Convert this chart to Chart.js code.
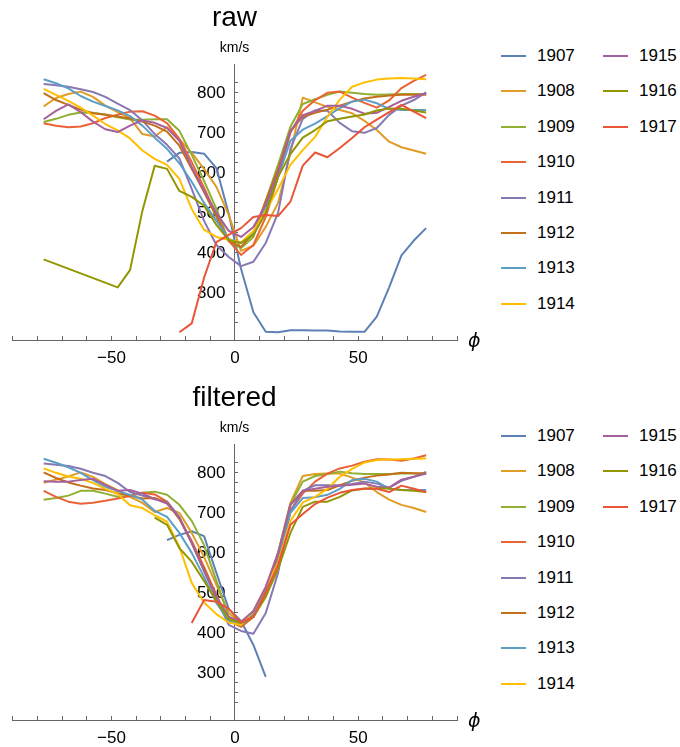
<!DOCTYPE html>
<html>
<head>
<meta charset="utf-8">
<script src="https://cdn.jsdelivr.net/npm/chart.js@4.4.1/dist/chart.umd.min.js"></script>
<style>
  html, body { margin: 0; padding: 0; background: #fff; }
  body { width: 680px; height: 747px; position: relative; overflow: hidden;
         font-family: "Liberation Sans", Arial, sans-serif; }
  .panel { position: absolute; left: 0; width: 470px; height: 375px; }
  .phi { position: absolute; font-family: "DejaVu Sans", "Liberation Sans", sans-serif;
         font-style: italic; font-size: 19px; line-height: 22px; color: #000; }
  .lg { position: absolute; height: 20px; display: flex; align-items: center;
        font-size: 17px; color: #000; white-space: nowrap; }
  .lg span.sw { display: inline-block; width: 25px; height: 2px; margin-right: 11px; }
</style>
</head>
<body>
<div class="panel" style="top:0px"><canvas id="rawChart" width="470" height="375"></canvas></div>
<div class="panel" style="top:380px"><canvas id="filtChart" width="470" height="375"></canvas></div>
<div class="phi" style="left:468px; top:329px">ϕ</div>
<div class="phi" style="left:468px; top:709px">ϕ</div>
<div id="legendRaw"></div>
<div id="legendFilt"></div>

<script>
// ---------- data ----------
const years = ["1907","1908","1909","1910","1911","1912","1913","1914","1915","1916","1917"];
// latitude grid (phi, degrees)
const phi = [-77.5,-72.5,-67.5,-62.5,-57.5,-52.5,-47.5,-42.5,-37.5,-32.5,-27.5,-22.5,-17.5,-12.5,-7.5,-2.5,
              2.5,7.5,12.5,17.5,22.5,27.5,32.5,37.5,42.5,47.5,52.5,57.5,62.5,67.5,72.5,77.5];
const yTickLabels = [300, 400, 500, 600, 700, 800];
const xTickLabels = [-50, 0, 50];

// raw speeds (km/s)
const raw1907 = [null,null,null,null,null,null,null,null,null,null,628,650,652,648,612,498,360,252,203,202,207,207,206,206,204,203,203,241,314,394,431,462];
const raw1908 = [766,787,797,803,790,768,752,737,697,691,714,684,650,610,565,495,405,418,465,525,650,788,776,765,757,749,730,707,678,664,656,648];
const raw1909 = [727,735,745,751,750,746,739,733,733,734,734,705,645,580,510,430,412,440,530,620,715,772,784,795,803,800,797,795,796,797,797,797];
const raw1910 = [724,718,714,716,724,737,745,753,754,743,724,685,627,563,495,430,395,420,490,590,700,755,782,800,803,788,775,763,781,812,830,845];
const raw1911 = [822,819,815,809,802,790,773,757,731,697,670,636,560,480,420,390,367,378,425,500,660,735,756,755,725,704,700,712,745,768,782,801];
const raw1912 = [799,782,770,758,749,745,741,736,728,718,703,668,610,552,490,430,415,450,530,610,705,740,750,758,768,778,786,790,793,795,795,795];
const raw1913 = [834,824,811,792,778,767,756,742,718,688,660,624,578,525,480,435,425,450,510,590,680,708,723,742,762,778,783,774,760,757,757,757];
const raw1914 = [810,795,780,763,743,722,706,686,656,635,620,585,510,458,440,433,426,455,505,560,620,657,690,740,783,815,826,833,836,837,836,834];
const raw1915 = [734,755,771,752,728,709,702,718,731,725,712,680,615,555,500,455,440,465,520,600,705,744,755,768,768,760,748,750,765,780,790,799];
const raw1916 = [384,null,null,null,null,null,314,357,505,618,610,555,540,518,470,432,425,445,500,590,647,688,707,729,735,741,746,756,761,760,756,751];
const raw1917 = [null,null,null,null,null,null,null,null,null,null,null,202,224,338,427,445,462,490,495,492,528,618,651,639,662,687,714,733,752,770,753,737];

// filtered speeds (km/s)
const filt1907 = [null,null,null,null,null,null,null,null,null,null,632,645,654,642,550,460,430,370,290,null,null,null,null,null,null,null,null,null,null,null,null,null];
const filt1908 = [775,783,791,801,790,772,757,740,725,702,712,700,650,590,520,450,425,450,510,600,725,792,797,798,798,788,776,752,733,720,712,702];
const filt1909 = [733,737,743,755,755,748,740,743,750,753,745,720,680,620,530,440,420,440,500,600,720,778,792,797,803,799,797,797,797,798,798,798];
const filt1910 = [755,740,728,723,725,730,736,742,750,746,728,685,630,565,495,430,415,440,510,590,705,748,778,798,811,818,828,834,833,830,836,844];
const filt1911 = [823,820,817,810,800,792,775,752,743,734,728,690,625,555,485,420,405,398,450,550,705,755,769,769,769,772,778,773,763,780,790,802];
const filt1912 = [801,787,776,768,761,757,749,743,736,737,725,685,625,560,490,430,418,445,505,590,720,755,755,757,769,780,788,793,796,800,799,798];
const filt1913 = [835,825,814,800,782,765,755,745,733,705,690,650,600,540,475,430,420,445,500,580,700,737,739,745,760,782,785,778,760,757,757,757];
const filt1914 = [811,800,791,785,775,760,747,719,712,694,678,615,525,476,447,426,420,455,515,575,680,726,740,760,790,810,826,832,833,834,835,836];
const filt1915 = [779,778,778,782,785,770,755,757,748,735,723,688,625,555,490,440,428,455,515,600,720,755,760,765,768,770,773,765,763,783,790,798];
const filt1916 = [null,null,null,null,null,null,null,null,null,688,670,612,578,530,480,435,425,440,490,560,650,715,728,728,740,756,760,761,761,757,755,752];
const filt1917 = [null,null,null,null,null,null,null,null,null,null,null,null,425,482,478,460,426,440,500,570,670,697,722,738,750,757,761,760,752,768,760,752];

const rawSeries  = [raw1907, raw1908, raw1909, raw1910, raw1911, raw1912, raw1913, raw1914, raw1915, raw1916, raw1917];
const filtSeries = [filt1907, filt1908, filt1909, filt1910, filt1911, filt1912, filt1913, filt1914, filt1915, filt1916, filt1917];

// ---------- styles ----------
const colors = ["#5E81B5","#E19C24","#8FB032","#EB6235","#8778B3","#C56E1A","#5D9EC7","#FFBF00","#A5609D","#929600","#E95536"];
const AXIS = "#666666";

Chart.defaults.font.family = '"Liberation Sans", Arial, sans-serif';
Chart.defaults.font.size = 17;
Chart.defaults.color = "#000";

function minusFmt(v) { return v < 0 ? "\u2212" + Math.abs(v) : String(v); }

function buildDatasets(series) {
  return series.map((arr, i) => ({
    label: years[i],
    data: phi.map((x, k) => ({ x: x, y: arr[k] })).filter(p => p.y !== null),
    borderColor: colors[i],
    backgroundColor: colors[i],
    borderWidth: 2,
    pointRadius: 0,
    tension: 0,
    fill: false,
    borderJoinStyle: "round",
    order: series.length - i
  }));
}

function makeChart(id, titleText, series) {
  return new Chart(document.getElementById(id), {
    type: "line",
    data: { datasets: buildDatasets(series) },
    options: {
      responsive: false,
      animation: false,
      devicePixelRatio: 1,
      layout: { padding: { left: 12, right: 13, top: 0, bottom: 35 } },
      plugins: {
        legend: { display: false },
        tooltip: { enabled: false },
        title: { display: true, text: titleText, color: "#000",
                 font: { size: 28, weight: "normal" }, padding: { top: 1, bottom: 0 } },
        subtitle: { display: true, text: "km/s", color: "#000",
                    font: { size: 14, weight: "normal" }, padding: { top: 5, bottom: 8.4 } }
      },
      scales: {
        x: {
          type: "linear", min: -90, max: 90,
          position: { y: 182.5 },
          afterFit: s => { s.height = 0; },
          afterBuildTicks: s => { s.ticks = s.ticks.filter(t => t.value % 10 === 0); },
          ticks: { stepSize: 10, autoSkip: false, maxRotation: 0, padding: 12.8, color: "#000",
                   callback: v => (xTickLabels.includes(v) ? minusFmt(v) : "") },
          grid: { drawOnChartArea: false, drawTicks: true, tickLength: -5, color: AXIS, lineWidth: 1 },
          border: { display: true, color: AXIS, width: 1 }
        },
        y: {
          type: "linear", min: 182.5, max: 870,
          position: { x: 0 },
          afterFit: s => { s.width = 0; },
          afterBuildTicks: s => { s.ticks = s.ticks.filter(t => t.value % 25 === 0); },
          ticks: { stepSize: 25, autoSkip: false, color: "#000",
                   callback: v => (yTickLabels.includes(v) ? v + "  " : "") },
          grid: { drawOnChartArea: false, drawTicks: true, tickLength: -4, color: AXIS, lineWidth: 1 },
          border: { display: true, color: AXIS, width: 1 }
        }
      }
    }
  });
}

const rawChart = makeChart("rawChart", "raw", rawSeries);
const filtChart = makeChart("filtChart", "filtered", filtSeries);

// HTML legend built from the chart's datasets (two columns of 8 rows)
function buildLegend(chart, hostId, topOffset) {
  const host = document.getElementById(hostId);
  chart.data.datasets.forEach((ds, i) => {
    const col = i < 8 ? 0 : 1;
    const row = i % 8;
    const d = document.createElement("div");
    d.className = "lg";
    d.style.left = (col === 0 ? 501 : 603) + "px";
    d.style.top = (topOffset + 55.7 + row * 35.45 - 10) + "px";
    const sw = document.createElement("span");
    sw.className = "sw";
    sw.style.background = ds.borderColor;
    d.appendChild(sw);
    d.appendChild(document.createTextNode(ds.label));
    host.appendChild(d);
  });
}
buildLegend(rawChart, "legendRaw", 0);
buildLegend(filtChart, "legendFilt", 380);
</script>
</body>
</html>
